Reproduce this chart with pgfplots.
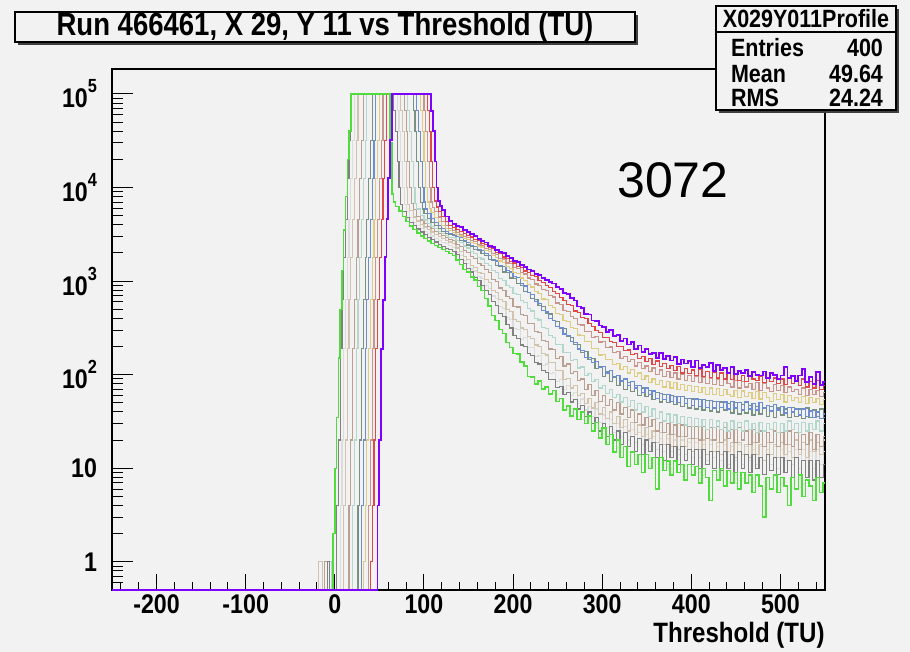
\documentclass[border=0pt]{standalone}
\usepackage{fontspec}
\setmainfont{Liberation Sans}
\newfontfamily\rootfont[FakeStretch=0.86]{Liberation Sans}
\usepackage{pgfplots}
\pgfplotsset{compat=1.18}

\definecolor{bg}{HTML}{F2F2F2}
\definecolor{cPurple}{HTML}{8000FF}
\definecolor{cRed}{HTML}{E04848}
\definecolor{cRosy}{HTML}{C8968C}
\definecolor{cYellow}{HTML}{DECC82}
\definecolor{cBlue}{HTML}{6E8CD2}
\definecolor{cGreyGreen}{HTML}{789182}
\definecolor{cTeal}{HTML}{B4D7CD}
\definecolor{cBrown}{HTML}{B9A091}
\definecolor{cBeige}{HTML}{D2C3AF}
\definecolor{cLightGrey}{HTML}{DCDCDC}
\definecolor{cDarkGrey}{HTML}{808080}
\definecolor{cGreen}{HTML}{50DC3C}

% 10^n label in text font
\newcommand{\ex}[1]{10\raisebox{0.55em}{\fontsize{9.5}{9.5}\selectfont #1}}

\begin{document}
\begin{tikzpicture}
% page background (910x652 px at 0.5pt/px)
\fill[bg] (0,0) rectangle (455pt,326pt);

\begin{axis}[
  at={(56pt,31pt)}, anchor=south west,
  scale only axis, width=356.5pt, height=260.5pt,
  xmin=-250, xmax=550,
  ymode=log, ymin=0.5, ymax=1.85e5,
  clip=false,
  axis line style={line width=0.6pt},
  tick align=inside,
  xtick pos=left, ytick pos=left,
  xtick={-200,-100,0,100,200,300,400,500},
  xticklabels={-200,-100,0,100,200,300,400,500},
  minor xtick={-240,-220,...,540},
  ytick={1,10,100,1000,10000,100000},
  yticklabels={1,10,\ex{2},\ex{3},\ex{4},\ex{5}},
  minor ytick={0.6,0.7,0.8,0.9,2,3,4,5,6,7,8,9,20,30,40,50,60,70,80,90,
    200,300,400,500,600,700,800,900,2000,3000,4000,5000,6000,7000,8000,9000,
    20000,30000,40000,50000,60000,70000,80000,90000},
  major tick length=10.5pt, minor tick length=5.3pt,
  major x tick style={/pgfplots/major tick length=7.8pt},
  minor x tick style={/pgfplots/minor tick length=3.9pt},
  tick style={line width=0.5pt, black},
  ticklabel style={font=\rootfont\bfseries\fontsize{13.5}{13.5}\selectfont},
  xticklabel style={yshift=1.2pt},
  yticklabel style={xshift=-4pt},
  every axis plot/.append style={const plot, mark=none, line width=0.6pt},
]

% light grey
\addplot[cLightGrey] coordinates {
(-250,0.5) (-14,1) (-12,0.5) (6,4) (8,20) (10,190) (12,630) (14,1800) (16,4600) (18,12600) (20,32000) (22,100000)
(70,66000) (72,40000) (74,19000) (76,10000) (78,6600) (80,5600) (84,4750) (88,4250) (92,3900) (96,3620) (100,3400)
(104,3200) (108,3030) (112,2880) (116,2740) (120,2610) (124,2500) (128,2400)
(132,2300) (136,2020) (140,1890) (144,1670) (148,1530) (152,1350) (156,1280) (160,1120) (164,1070) (168,900)
(172,840) (176,695) (180,655) (184,535) (188,510) (192,405) (196,390) (200,312) (204,302) (208,240) (212,248)
(216,195) (220,196) (224,158) (228,160) (232,126) (236,130) (240,102) (244,106) (248,84) (252,89) (256,70)
(260,76) (264,60) (268,64) (272,49) (276,55) (280,42) (284,46) (288,36) (292,43) (296,31) (300,37) (304,27)
(308,33) (312,24) (316,30) (320,22) (324,28) (328,20) (332,26) (336,19) (340,24) (344,18) (348,23) (352,17)
(356,22) (360,16) (364,21) (368,15) (372,21) (376,15) (380,20) (384,14) (388,20) (392,14) (396,19) (400,13)
(404,19) (408,13) (412,18) (416,12) (420,18) (424,13) (428,17) (432,12) (436,18) (440,11) (444,17) (448,12)
(452,18) (456,11) (460,17) (464,12) (468,16) (472,11) (476,17) (480,12) (484,16) (488,11) (492,17) (496,10)
(500,16) (504,12) (508,15) (512,11) (516,16) (520,10) (524,16) (528,12) (532,15) (536,10) (540,16) (544,11)
(548,15) (550,15)};

% beige
\addplot[cBeige] coordinates {
(-250,0.5) (-18,1) (-14,0.5) (10,4) (12,20) (14,190) (16,630) (18,1800) (20,4600) (22,12600) (24,32000) (26,100000)
(74,66000) (76,40000) (78,19000) (80,10000) (82,6600) (84,5700) (88,4850) (92,4400) (96,4050) (100,3780)
(104,3550) (108,3350) (112,3170) (116,3010) (120,2870) (124,2740) (128,2620)
(132,2530) (136,2260) (140,2070) (144,1830) (148,1690) (152,1480) (156,1410) (160,1230) (164,1200) (168,1040)
(172,975) (176,800) (180,760) (184,635) (188,605) (192,500) (196,470) (200,388) (204,372) (208,315) (212,302)
(216,255) (220,246) (224,208) (228,200) (232,168) (236,162) (240,136) (244,134) (248,110) (252,110) (256,88)
(260,91) (264,72) (268,76) (272,60) (276,63) (280,49) (284,56) (288,44) (292,50) (296,38) (300,45) (304,34)
(308,40) (312,30) (316,36) (320,27) (324,33) (328,25) (332,31) (336,23) (340,29) (344,22) (348,27) (352,21)
(356,25) (360,19) (364,24) (368,18) (372,23) (376,17) (380,23) (384,16) (388,22) (392,17) (396,21) (400,15)
(404,21) (408,16) (412,20) (416,14) (420,20) (424,15) (428,19) (432,14) (436,20) (440,15) (444,19) (448,13)
(452,19) (456,14) (460,18) (464,13) (468,19) (472,14) (476,18) (480,12) (484,19) (488,14) (492,18) (496,13)
(500,19) (504,14) (508,18) (512,13) (516,20) (520,14) (524,19) (528,13) (532,20) (536,15) (540,19) (544,14)
(548,20) (550,20)};

% brown
\addplot[cBrown] coordinates {
(-250,0.5) (-12,1) (-8,0.5) (16,4) (18,20) (20,190) (22,630) (24,1800) (26,4600) (28,12600) (30,32000) (32,100000)
(78,66000) (80,40000) (82,19000) (84,10000) (86,6700) (88,5800) (92,4950) (96,4500) (100,4150) (104,3870)
(108,3630) (112,3420) (116,3240) (120,3080) (124,2940) (128,2810)
(132,2710) (136,2480) (140,2360) (144,2110) (148,2030) (152,1830) (156,1730) (160,1550) (164,1480) (168,1320)
(172,1230) (176,1040) (180,1000) (184,845) (188,795) (192,685) (196,648) (200,540) (204,528) (208,438) (212,430)
(216,355) (220,350) (224,288) (228,284) (232,232) (236,228) (240,188) (244,186) (248,150) (252,155) (256,124)
(260,130) (264,102) (268,108) (272,86) (276,90) (280,70) (284,78) (288,60) (292,68) (296,52) (300,60) (304,47)
(308,54) (312,42) (316,50) (320,38) (324,45) (328,35) (332,42) (336,31) (340,38) (344,29) (348,35) (352,28)
(356,33) (360,25) (364,31) (368,24) (372,30) (376,23) (380,29) (384,22) (388,29) (392,22) (396,28) (400,21)
(404,28) (408,20) (412,28) (416,21) (420,27) (424,20) (428,28) (432,19) (436,27) (440,21) (444,26) (448,19)
(452,27) (456,20) (460,25) (464,18) (468,26) (472,19) (476,25) (480,17) (484,24) (488,19) (492,25) (496,17)
(500,24) (504,18) (508,25) (512,17) (516,24) (520,16) (524,23) (528,18) (532,24) (536,16) (540,23) (544,17)
(548,22) (550,22)};

% teal
\addplot[cTeal] coordinates {
(-250,0.5) (-6,1) (-4,0.5) (20,4) (22,20) (24,190) (26,630) (28,1800) (30,4600) (32,12600) (34,32000) (36,100000)
(82,66000) (84,40000) (86,19000) (88,10000) (90,6800) (92,5900) (96,5000) (100,4500) (104,4150) (108,3870)
(112,3630) (116,3420) (120,3240) (124,3080) (128,2950)
(132,2900) (136,2720) (140,2590) (144,2370) (148,2260) (152,2060) (156,1980) (160,1790) (164,1720) (168,1550)
(172,1480) (176,1290) (180,1230) (184,1070) (188,1020) (192,890) (196,850) (200,735) (204,725) (208,620)
(212,590) (216,505) (220,480) (224,400) (228,385) (232,322) (236,312) (240,262) (244,252) (248,212) (252,210)
(256,172) (260,172) (264,142) (268,144) (272,118) (276,121) (280,98) (284,103) (288,84) (292,88) (296,72)
(300,77) (304,63) (308,70) (312,57) (316,62) (320,51) (324,57) (328,46) (332,53) (336,42) (340,49) (344,40)
(348,46) (352,36) (356,43) (360,34) (364,40) (368,32) (372,38) (376,31) (380,37) (384,30) (388,36) (392,29)
(396,35) (400,28) (404,34) (408,28) (412,33) (416,26) (420,33) (424,27) (428,32) (432,26) (436,31) (440,25)
(444,32) (448,26) (452,31) (456,25) (460,32) (464,26) (468,30) (472,24) (476,31) (480,25) (484,30) (488,26)
(492,31) (496,24) (500,30) (504,25) (508,32) (512,26) (516,30) (520,24) (524,31) (528,25) (532,30) (536,26)
(540,32) (544,25) (548,30) (550,30)};

% dark grey
\addplot[cDarkGrey] coordinates {
(-250,0.5) (-8,1) (-6,0.5) (2,4) (4,20) (6,190) (8,630) (10,1800) (12,4600) (14,12600) (16,32000) (18,100000)
(66,66000) (68,40000) (70,19000) (72,10000) (74,6600) (76,5600) (80,4750) (84,4250) (88,3900) (92,3600)
(96,3350) (100,3150) (104,2950) (108,2780) (112,2620) (116,2480) (120,2360) (124,2250) (128,2160)
(132,2080) (136,1920) (140,1690) (144,1530) (148,1360) (152,1250) (156,1100) (160,1010) (164,895) (168,790)
(172,720) (176,600) (180,548) (184,455) (188,415) (192,345) (196,316) (200,262) (204,246) (208,208) (212,200)
(216,168) (220,160) (224,136) (228,130) (232,110) (236,106) (240,88) (244,89) (248,73) (252,75) (256,62)
(260,64) (264,51) (268,54) (272,43) (276,47) (280,36) (284,40) (288,30) (292,35) (296,25) (300,30) (304,22)
(308,28) (312,20) (316,25) (320,18) (324,24) (328,17) (332,22) (336,15) (340,21) (344,14) (348,20) (352,15)
(356,19) (360,13) (364,18) (368,12) (372,18) (376,13) (380,17) (384,11) (388,17) (392,12) (396,16) (400,11)
(404,16) (408,10) (412,16) (416,11) (420,15) (424,10) (428,15) (432,9.5) (436,15) (440,10) (444,14) (448,9)
(452,15) (456,10) (460,14) (464,9) (468,14) (472,10) (476,13) (480,8.5) (484,14) (488,9.5) (492,13) (496,8.5)
(500,13) (504,9) (508,12) (512,8) (516,13) (520,8.5) (524,12) (528,8) (532,12) (536,7.5) (540,12) (544,8)
(548,11) (550,11)};

% grey-green
\addplot[cGreyGreen] coordinates {
(-250,0.5) (26,4) (28,20) (30,190) (32,630) (34,1800) (36,4600) (38,12600) (40,32000) (42,100000)
(88,66000) (90,40000) (92,19000) (94,10000) (96,6900) (98,5900) (100,5300) (104,4700) (108,4250) (112,3900)
(116,3620) (120,3400) (124,3230) (128,3120)
(132,3080) (136,2970) (140,2730) (144,2650) (148,2430) (152,2360) (156,2170) (160,2110) (164,1960) (168,1880)
(172,1700) (176,1650) (180,1470) (184,1440) (188,1250) (192,1230) (196,1080) (200,1070) (204,940) (208,905)
(212,780) (216,755) (220,650) (224,640) (228,550) (232,535) (236,455) (240,445) (244,378) (248,372) (252,312)
(256,310) (260,258) (264,252) (268,210) (272,210) (276,174) (280,176) (284,144) (288,148) (292,116) (296,122)
(300,96) (304,108) (308,84) (312,96) (316,76) (320,86) (324,70) (328,82) (332,66) (336,76) (340,60) (344,72)
(348,58) (352,68) (356,54) (360,64) (364,51) (368,62) (372,50) (376,60) (380,48) (384,58) (388,46) (392,56)
(396,44) (400,55) (404,43) (408,54) (412,42) (416,53) (420,41) (424,52) (428,40) (432,51) (436,42) (440,49)
(444,39) (448,50) (452,38) (456,48) (460,39) (464,47) (468,37) (472,46) (476,38) (480,45) (484,36) (488,46)
(492,35) (496,44) (500,37) (504,43) (508,35) (512,45) (516,36) (520,43) (524,34) (528,44) (532,35) (536,42)
(540,36) (544,43) (548,35) (550,35)};

% blue
\addplot[cBlue] coordinates {
(-250,0.5) (30,4) (32,20) (34,190) (36,630) (38,1800) (40,4600) (42,12600) (44,32000) (46,100000)
(92,66000) (94,40000) (96,19000) (98,10000) (100,7000) (102,5900) (104,5300) (108,4700) (112,4250) (116,3900)
(120,3620) (124,3400) (128,3250)
(132,3170) (136,3000) (140,2900) (144,2720) (148,2590) (152,2420) (156,2360) (160,2160) (164,2110) (168,1970)
(172,1880) (176,1710) (180,1640) (184,1480) (188,1430) (192,1290) (196,1250) (200,1120) (204,1090) (208,950)
(212,885) (216,750) (220,720) (224,610) (228,575) (232,485) (236,468) (240,395) (244,380) (248,328) (252,318)
(256,272) (260,264) (264,226) (268,220) (272,188) (276,180) (280,152) (284,154) (288,134) (292,138) (296,120)
(300,122) (304,104) (308,110) (312,94) (316,98) (320,84) (324,90) (328,76) (332,84) (336,72) (340,77) (344,64)
(348,72) (352,61) (356,67) (360,56) (364,63) (368,54) (372,61) (376,52) (380,59) (384,50) (388,58) (392,49)
(396,56) (400,47) (404,55) (408,46) (412,54) (416,45) (420,53) (424,44) (428,52) (432,45) (436,51) (440,43)
(444,52) (448,44) (452,50) (456,42) (460,51) (464,43) (468,49) (472,42) (476,50) (480,44) (484,47) (488,41)
(492,48) (496,42) (500,46) (504,39) (508,45) (512,40) (516,43) (520,37) (524,43) (528,36) (532,41) (536,35)
(540,40) (544,34) (548,38) (550,38)};

% yellow
\addplot[cYellow] coordinates {
(-250,0.5) (32,1) (34,4) (36,20) (38,190) (40,630) (42,1800) (44,4600) (46,12600) (48,32000) (50,100000)
(96,66000) (98,40000) (100,19000) (102,10000) (104,7000) (106,6000) (108,5400) (112,4800) (116,4350)
(120,3950) (124,3650) (128,3450)
(132,3320) (136,3140) (140,3040) (144,2850) (148,2770) (152,2600) (156,2540) (160,2370) (164,2310) (168,2140)
(172,2060) (176,1880) (180,1800) (184,1640) (188,1570) (192,1430) (196,1370) (200,1240) (204,1210) (208,1080)
(212,1015) (216,915) (220,865) (224,775) (228,740) (232,645) (236,630) (240,548) (244,525) (248,455) (252,438)
(256,378) (260,372) (264,320) (268,310) (272,266) (276,264) (280,226) (284,225) (288,192) (292,192) (296,162)
(300,164) (304,144) (308,146) (312,128) (316,132) (320,114) (324,122) (328,104) (332,113) (336,96) (340,104)
(344,88) (348,97) (352,82) (356,90) (360,78) (364,86) (368,74) (372,84) (376,72) (380,82) (384,70) (388,78)
(392,68) (396,77) (400,66) (404,75) (408,64) (412,73) (416,62) (420,72) (424,61) (428,71) (432,60) (436,70)
(440,62) (444,58) (448,68) (452,57) (456,67) (460,59) (464,64) (468,56) (472,66) (476,55) (480,64) (484,57)
(488,52) (492,63) (496,54) (500,61) (504,51) (508,60) (512,53) (516,57) (520,50) (524,59) (528,49) (532,57)
(536,50) (540,56) (544,48) (548,54) (550,54)};

% rosy
\addplot[cRosy] coordinates {
(-250,0.5) (38,4) (40,20) (42,190) (44,630) (46,1800) (48,4600) (50,12600) (52,32000) (54,100000)
(100,66000) (102,40000) (104,19000) (106,10000) (108,7000) (110,6100) (112,5500) (116,4850) (120,4350)
(124,3950) (128,3650)
(132,3480) (136,3290) (140,3180) (144,2990) (148,2900) (152,2720) (156,2650) (160,2480) (164,2420) (168,2240)
(172,2160) (176,1980) (180,1920) (184,1760) (188,1720) (192,1560) (196,1530) (200,1390) (204,1370) (208,1240)
(212,1190) (216,1080) (220,1040) (224,930) (228,905) (232,815) (236,790) (240,705) (244,675) (248,585)
(252,560) (256,490) (260,478) (264,415) (268,398) (272,345) (276,340) (280,290) (284,292) (288,252) (292,254)
(296,224) (300,228) (304,196) (308,198) (312,174) (316,178) (320,150) (324,158) (328,138) (332,146) (336,124)
(340,134) (344,116) (348,124) (352,108) (356,118) (360,100) (364,112) (368,96) (372,108) (376,94) (380,104)
(384,90) (388,100) (392,86) (396,98) (400,84) (404,96) (408,82) (412,94) (416,80) (420,92) (424,78) (428,90)
(432,76) (436,88) (440,80) (444,74) (448,86) (452,72) (456,84) (460,74) (464,80) (468,70) (472,82) (476,68)
(480,80) (484,72) (488,66) (492,78) (496,68) (500,76) (504,64) (508,74) (512,66) (516,70) (520,62) (524,72)
(528,60) (532,70) (536,62) (540,68) (544,58) (548,64) (550,64)};

% red
\addplot[cRed] coordinates {
(-250,0.5) (40,1) (42,4) (44,20) (46,190) (48,630) (50,1800) (52,4600) (54,12600) (56,32000) (58,100000)
(104,66000) (106,40000) (108,19000) (110,10000) (112,7200) (114,6200) (116,5600) (120,4900) (124,4350) (128,3950)
(132,3720) (136,3560) (140,3380) (144,3220) (148,3080) (152,2960) (156,2790) (160,2710) (164,2530) (168,2460)
(172,2290) (176,2210) (180,2040) (184,1960) (188,1810) (192,1750) (196,1610) (200,1560) (204,1440) (208,1390)
(212,1280) (216,1240) (220,1140) (224,1110) (228,1010) (232,965) (236,900) (240,860) (244,770) (248,735)
(252,665) (256,625) (260,565) (264,545) (268,480) (272,465) (276,410) (280,395) (284,350) (288,330) (292,296)
(296,282) (300,250) (304,248) (308,225) (312,220) (316,200) (320,202) (324,180) (328,184) (332,165) (336,170)
(340,150) (344,158) (348,138) (352,148) (356,128) (360,140) (364,122) (368,132) (372,116) (376,126) (380,110)
(384,122) (388,104) (392,116) (396,102) (400,112) (404,98) (408,114) (412,96) (416,108) (420,94) (424,106)
(428,92) (432,104) (436,90) (440,102) (444,88) (448,100) (452,86) (456,98) (460,84) (464,96) (468,90) (472,86)
(476,96) (480,82) (484,94) (488,84) (492,92) (496,80) (500,90) (504,78) (508,94) (512,80) (516,86) (520,76)
(524,90) (528,74) (532,84) (536,72) (540,86) (544,70) (548,76) (550,76)};

% green
\addplot[cGreen, line width=0.75pt] coordinates {
(-250,0.5) (-2,2) (0,10) (2,35) (4,150) (6,500) (8,1300) (10,3500) (12,8000) (14,20000) (16,40000) (18,100000)
(62,30000) (64,8500) (66,7000) (68,6300) (72,5600) (76,4900) (80,4350) (84,3900) (88,3550) (92,3270) (96,3040)
(100,2850) (104,2680) (108,2530) (112,2400) (116,2280) (120,2170) (124,2070) (128,1980)
(132,1880) (136,1680) (140,1500) (144,1330) (148,1250) (152,1100) (156,1030) (160,880) (164,790) (168,650)
(172,545) (176,430) (180,380) (184,305) (188,275) (192,222) (196,196) (200,168) (204,166) (208,136) (212,124)
(216,96) (220,94) (224,80) (228,86) (232,70) (236,74) (240,62) (244,68) (248,52) (252,56) (256,42) (260,46)
(264,36) (268,43) (272,33) (276,40) (280,30) (284,36) (288,25) (292,31) (296,21) (300,27) (304,18) (308,23)
(312,15) (316,20) (320,13) (324,17) (328,10.5) (332,15) (336,11) (340,14) (344,9) (348,14) (352,10) (356,13)
(360,6) (364,13) (368,9.5) (372,12) (376,8.5) (380,12) (384,9) (388,11) (392,7.5) (396,11) (400,8.5) (404,10.5)
(408,7) (412,10) (416,8) (420,4.5) (424,9.5) (428,7.5) (432,10) (436,6.5) (440,9.5) (444,7) (448,9) (452,6)
(456,9) (460,7) (464,8.5) (468,5.5) (472,8.5) (476,6.5) (480,3) (484,8) (488,6) (492,8.5) (496,5.5) (500,8)
(504,6.5) (508,4) (512,8) (516,6) (520,8.5) (524,5) (528,7.5) (532,6.5) (536,4.5) (540,8) (544,5.5) (548,7)
(550,7)};

% purple
\addplot[cPurple, line width=0.9pt] coordinates {
(-250,0.5) (48,4) (50,20) (52,190) (54,630) (56,1800) (58,4600) (60,12600) (62,32000) (64,100000)
(108,66000) (110,40000) (112,19000) (114,10000) (116,7200) (118,6300) (120,5700) (124,4900) (128,4350)
(132,4100) (136,3880) (140,3760) (144,3520) (148,3370) (152,3190) (156,3040) (160,2830) (164,2680) (168,2590)
(172,2390) (176,2310) (180,2170) (184,2060) (188,1980) (192,1840) (196,1760) (200,1650) (204,1600) (208,1480)
(212,1420) (216,1330) (220,1290) (224,1180) (228,1160) (232,1070) (236,1030) (240,970) (244,945) (248,860)
(252,830) (256,750) (260,730) (264,655) (268,620) (272,535) (276,515) (280,445) (284,440) (288,380) (292,372)
(296,335) (300,322) (304,288) (308,298) (312,258) (316,265) (320,228) (324,244) (328,210) (332,222) (336,190)
(340,205) (344,176) (348,188) (352,168) (356,172) (360,150) (364,170) (368,148) (372,158) (376,142) (380,156)
(384,130) (388,145) (392,132) (396,140) (400,122) (404,142) (408,118) (412,128) (416,120) (420,133) (424,110)
(428,126) (432,112) (436,118) (440,104) (444,122) (448,102) (452,110) (456,104) (460,112) (464,96) (468,106)
(472,100) (476,98) (480,108) (484,92) (488,104) (492,100) (496,90) (500,98) (504,120) (508,92) (512,96)
(516,86) (520,98) (524,114) (528,84) (532,94) (536,80) (540,106) (544,78) (548,84) (550,84)};

\end{axis}

% x axis title
\node[anchor=east, inner sep=0pt, font=\rootfont\bfseries\fontsize{14}{14}\selectfont]
  at (412.5pt,8.3pt) {Threshold (TU)};

% title box with shadow
\fill[black!75] (9pt,303.5pt) rectangle (319pt,318.5pt);
\draw[line width=0.6pt, fill=bg] (7.5pt,305pt) rectangle (317.5pt,320pt);
\node[font=\rootfont\bfseries\fontsize{16}{16}\selectfont] at (162.5pt,312.5pt)
  {Run 466461, X 29, Y 11 vs Threshold (TU)};

% stats box with shadow
\fill[black!75] (359.5pt,269.5pt) rectangle (449.5pt,321.5pt);
\draw[line width=0.6pt, fill=bg] (358pt,271pt) rectangle (448pt,323pt);
\draw[line width=0.6pt] (358pt,310pt) -- (448pt,310pt);
\begin{scope}[font=\rootfont\bfseries\fontsize{12.5}{12.5}\selectfont]
\node at (403pt,316.5pt) {X029Y011Profile};
\node[anchor=west] at (362pt,302pt) {Entries};
\node[anchor=east] at (445pt,302pt) {400};
\node[anchor=west] at (362pt,289pt) {Mean};
\node[anchor=east] at (445pt,289pt) {49.64};
\node[anchor=west] at (362pt,277pt) {RMS};
\node[anchor=east] at (445pt,277pt) {24.24};
\end{scope}

% annotation
\node[font=\fontsize{25}{25}\selectfont] at (336.5pt,236pt) {3072};
\end{tikzpicture}
\end{document}
